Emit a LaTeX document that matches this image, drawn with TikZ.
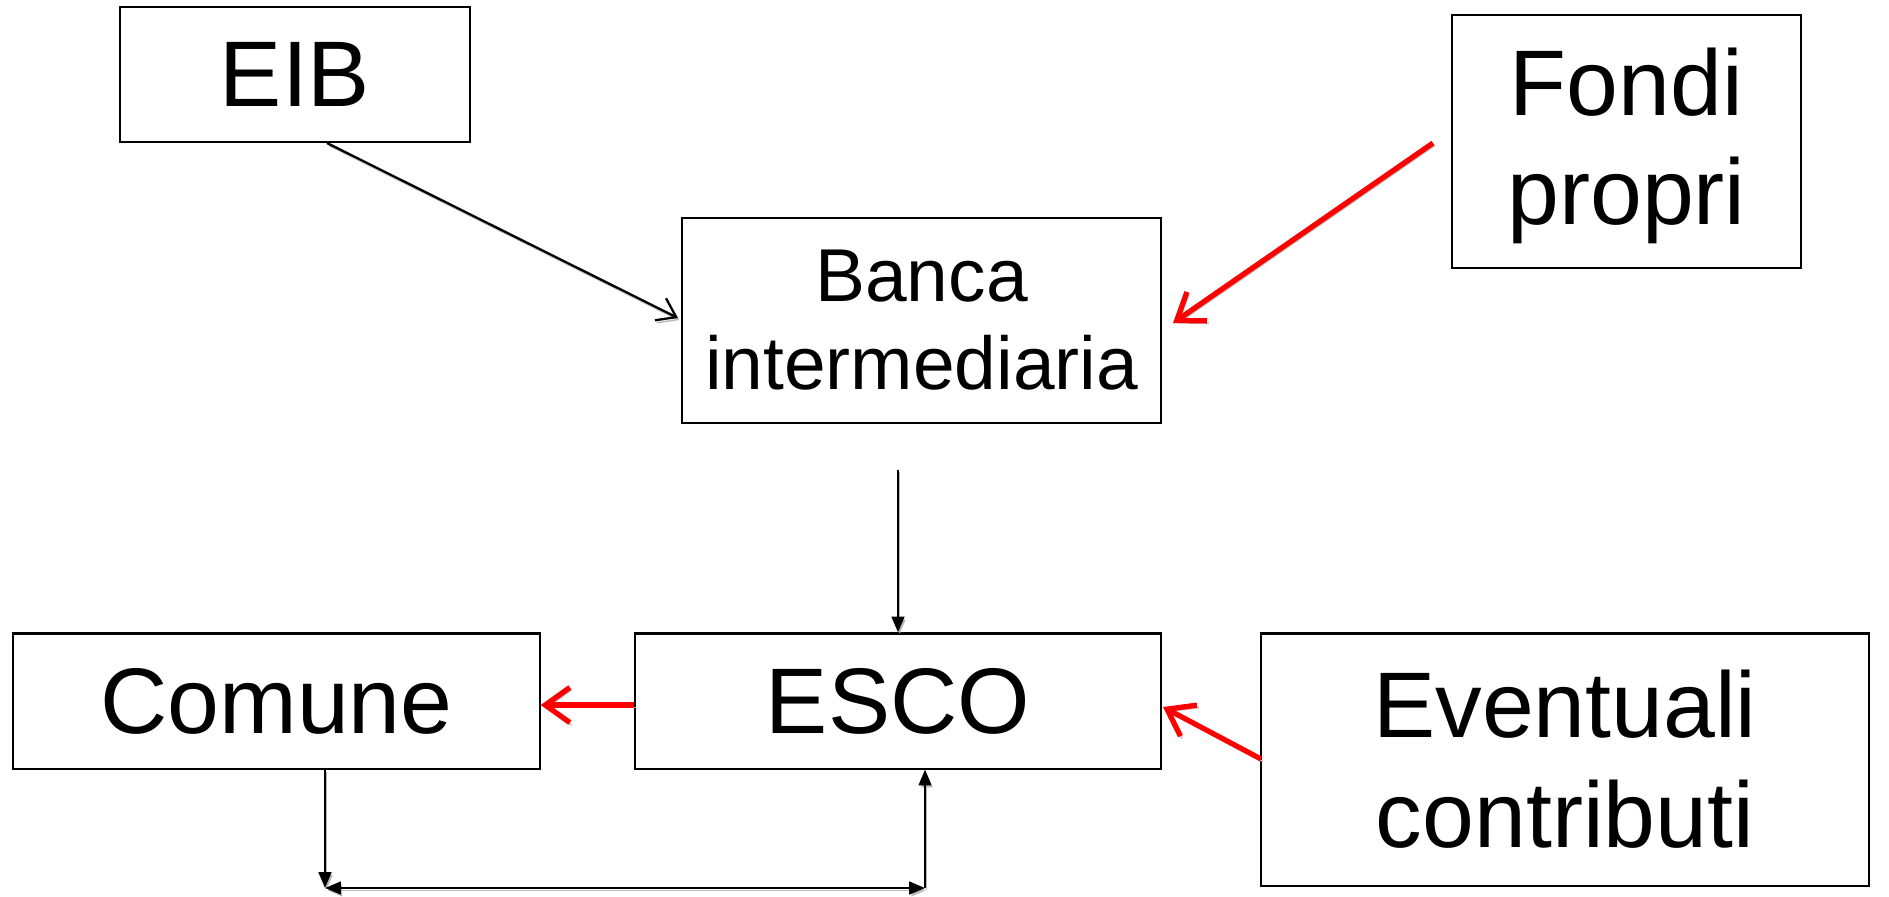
\documentclass[tikz,border=0pt]{standalone}
\usepackage{fontspec}
\setmainfont{Liberation Sans}
\usetikzlibrary{arrows.meta,calc}
\begin{document}
\begin{tikzpicture}[x=0.01cm,y=-0.01cm,
  box/.style={draw=black, line width=0.6pt, fill=white, inner sep=0pt, align=center},
  shad/.style={preaction={draw=gray!55, transform canvas={xshift=0.5pt,yshift=-0.7pt}}},
  blk/.style={draw=black, line width=0.65pt, shad},
  redar/.style={draw=red, line width=1.5pt, shad, -{Straight Barb[length=7pt,width=10pt,line width=1.5pt]}},
  tri/.style={-{Triangle[length=4.5pt,width=3.6pt]}},
  big/.style={font=\fontsize{26.5}{31.5}\selectfont},
  mid/.style={font=\fontsize{26.5}{31.2}\selectfont},
  small/.style={font=\fontsize{21.3}{25}\selectfont}
]
\useasboundingbox (0,0) rectangle (1889,896);
\node[box, big, minimum width=3.49cm, minimum height=1.35cm] (eib) at (295,74.7) {EIB};
\node[box, minimum width=3.49cm, minimum height=2.52cm] (fondi) at (1626.5,141.5) {};
\node[mid, align=center, inner sep=0pt] (fonditxt) at (1626.5,146) {Fondi\\propri};
\node[box, small, minimum width=4.79cm, minimum height=2.05cm] (banca) at (921.5,320.5) {Banca\\intermediaria};
\node[box, big, minimum width=5.26cm, minimum height=1.35cm] (comune) at (276.5,701) {Comune};
\node[box, big, minimum width=5.26cm, minimum height=1.35cm] (esco) at (898,701) {ESCO};
\node[box, mid, minimum width=6.07cm, minimum height=2.52cm] (event) at (1565,759.5) {Eventuali\\contributi};

\coordinate (eibout) at (327,143);
\coordinate (bancain) at (678,318);
\coordinate (fondiout) at (1433,143);
\coordinate (bancain2) at (1173,323);
\coordinate (bancaout) at (898,470);
\coordinate (escoin) at (1163,707);
\coordinate (eventout) at (1261,759);
\coordinate (bl) at (325,888);
\coordinate (br) at (925,888);

\draw[blk, -{Straight Barb[length=5pt,width=7pt,line width=0.65pt]}] (eibout) -- (bancain);
\draw[redar] (fondiout) -- (bancain2);
\draw[blk, tri] (bancaout) -- (esco.north);
\draw[redar] (esco.west |- 0,705) -- (comune.east |- 0,705);
\draw[redar] (eventout) -- (escoin);
\draw[blk, tri] (comune.south -| bl) -- (bl);
\draw[blk, {Triangle[length=4.5pt,width=3.6pt]}-{Triangle[length=4.5pt,width=3.6pt]}] (bl) -- (br);
\draw[blk, tri] (br) -- (esco.south -| br);
\end{tikzpicture}
\end{document}
